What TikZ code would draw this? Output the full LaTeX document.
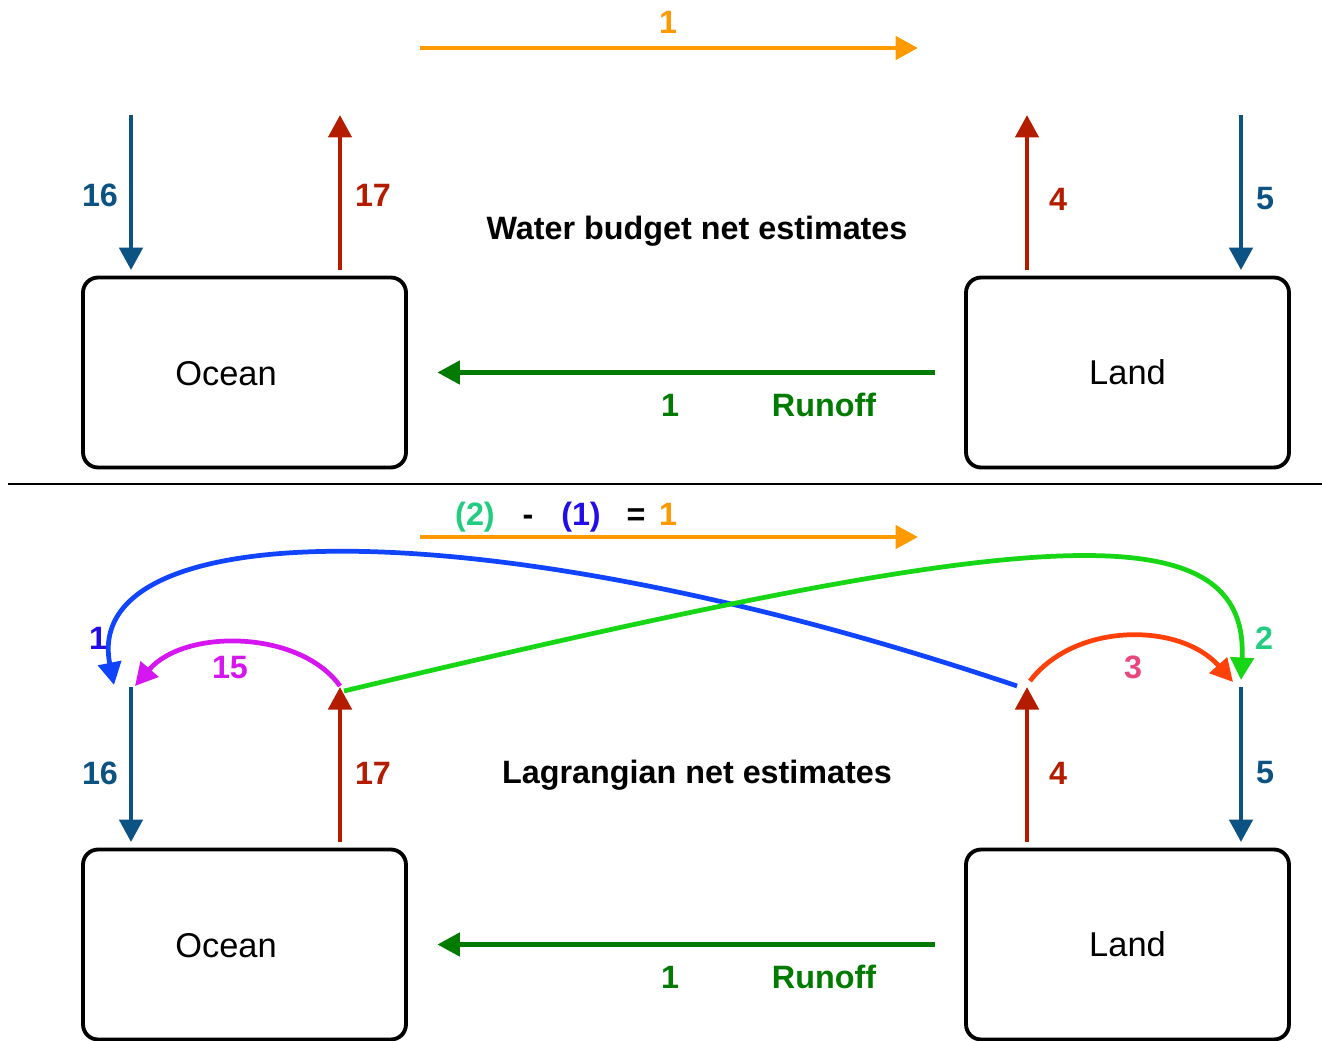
\documentclass[tikz,border=0pt]{standalone}
\usepackage{fontspec}
\setmainfont{Liberation Sans}
\usetikzlibrary{arrows.meta}

\definecolor{downblue}{RGB}{12,82,130}
\definecolor{upred}{RGB}{180,28,0}
\definecolor{netorange}{RGB}{255,153,0}
\definecolor{runoffgreen}{RGB}{0,122,0}
\definecolor{loopblue}{RGB}{16,68,255}
\definecolor{loopgreen}{RGB}{22,214,22}
\definecolor{loopmagenta}{RGB}{214,22,240}
\definecolor{looporange}{RGB}{255,64,8}
\definecolor{labblue}{RGB}{34,12,232}
\definecolor{labteal}{RGB}{34,204,128}
\definecolor{labpink}{RGB}{232,70,124}

\tikzset{
  flux/.style={line width=2.7pt, -{Triangle[length=0.45cm,width=0.46cm]}},
  box/.style={draw, line width=2.2pt, rounded corners=0.3cm,
    minimum width=6.46cm, minimum height=3.8cm, font=\fontsize{19.6}{23}\selectfont},
  boxtext/.style={font=\fontsize{19.6}{23}\selectfont},
  num/.style={font=\fontsize{18.4}{22}\selectfont\bfseries, inner sep=0pt},
}

\begin{document}
\begin{tikzpicture}[x=0.02cm,y=-0.02cm]
\useasboundingbox (0,0) rectangle (1322,1041);

% both panels: boxes, vertical fluxes, runoff
\foreach \p/\dy/\ya/\yb in {A/0/195/199,B/572/773/773}
{
  \node[box] (ocean\p) at (244.5,372.5+\dy) {};
  \node[boxtext] at (226,374+\dy) {Ocean};
  \node[box] (land\p) at (1127.5,372.5+\dy) {Land};

  \coordinate (rain16\p) at (131,115+\dy);
  \coordinate (evap17\p) at (340,115+\dy);
  \coordinate (evap4\p) at (1027,115+\dy);
  \coordinate (rain5\p) at (1241,115+\dy);

  \draw[flux,downblue,shorten >=0.11cm] (rain16\p) -- (rain16\p |- ocean\p.north);
  \draw[flux,upred,shorten <=0.11cm] (evap17\p |- ocean\p.north) -- (evap17\p);
  \draw[flux,upred,shorten <=0.11cm] (evap4\p |- land\p.north) -- (evap4\p);
  \draw[flux,downblue,shorten >=0.11cm] (rain5\p) -- (rain5\p |- land\p.north);

  \node[num,downblue] at (100,\ya) {16};
  \node[num,upred] at (373,\ya) {17};
  \node[num,upred] at (1058,\yb) {4};
  \node[num,downblue] at (1265,\yb) {5};

  \draw[flux,runoffgreen,shorten <=0.59cm,shorten >=0.59cm] (land\p.west) -- (ocean\p.east);
  \node[num,runoffgreen] at (670,405+\dy) {1};
  \node[num,runoffgreen] at (824,405+\dy) {Runoff};
}

% top panel
\coordinate (netS) at (420,48);
\coordinate (netE) at (918,48);
\draw[flux,netorange] (netS) -- (netE);
\node[num,netorange] at (668,22) {1};
\node[num] (titleA) at (697,231) {Water budget net estimates};

\draw[line width=0.8pt] (8,484) -- (1322,484);

% bottom panel
\coordinate (lagS) at (420,537);
\coordinate (lagE) at (918,537);
\draw[flux,netorange] (lagS) -- (lagE);
\node[num,labteal,anchor=base] at (475,525) {(2)};
\node[num,anchor=base] at (528,525) {-};
\node[num,labblue,anchor=base] at (581,525) {(1)};
\node[num,anchor=base] at (636,525) {=};
\node[num,netorange,anchor=base] at (668,525) {1};
\node[num] (titleB) at (697,775) {Lagrangian net estimates};

\coordinate (blueS) at (1017,686);
\coordinate (blueE) at (114,685);
\coordinate (greenS) at (344,691);
\coordinate (greenE) at (1241,680);
\coordinate (magS) at (340,686);
\coordinate (magE) at (135,686);
\coordinate (redS) at (1030,681);
\coordinate (redE) at (1233,682);

\draw[flux,loopblue] (blueS) .. controls (480,505) and (80,515) .. (blueE);
\draw[flux,loopgreen] (greenS) .. controls (1000,535) and (1250,500) .. (greenE);
\draw[flux,loopmagenta] (magS) .. controls (300,630) and (185,628) .. (magE);
\draw[flux,looporange] (redS) .. controls (1075,622) and (1180,622) .. (redE);

\node[num,labblue] at (98,638) {1};
\node[num,labteal] at (1264,638) {2};
\node[num,loopmagenta] at (230,668) {15};
\node[num,labpink] at (1133,667) {3};

\end{tikzpicture}
\end{document}
